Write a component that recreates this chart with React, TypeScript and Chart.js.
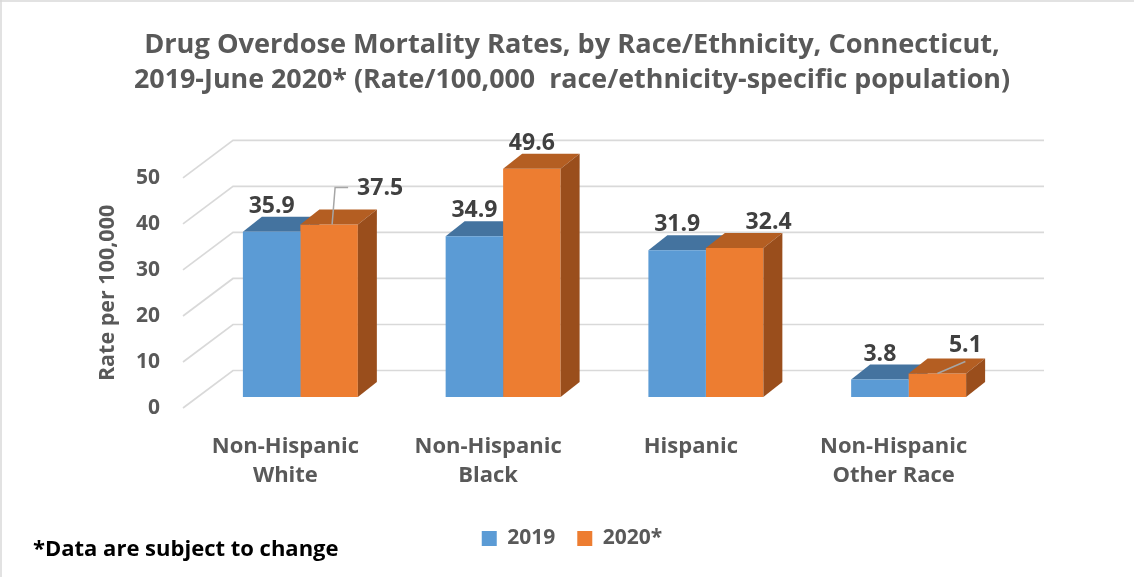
import React, { useEffect, useRef } from 'react';
import { Chart, registerables } from 'chart.js';

Chart.register(...registerables);

// ---- data ----
const categories: string[][] = [
  ['Non-Hispanic', 'White'],
  ['Non-Hispanic', 'Black'],
  ['Hispanic'],
  ['Non-Hispanic', 'Other Race'],
];
const seriesNames = ['2019', '2020*'];
const values2019 = [35.9, 34.9, 31.9, 3.8];
const values2020 = [37.5, 49.6, 32.4, 5.1];
const yMin = 0;
const yMax = 50;
const yStep = 10;
const titleLines = [
  'Drug Overdose Mortality Rates, by Race/Ethnicity, Connecticut,',
  '2019-June 2020* (Rate/100,000  race/ethnicity-specific population)',
];
const yAxisTitle = 'Rate per 100,000';
const footnote = '*Data are subject to change';

// ---- styles ----
const FONT = '"Open Sans", Lato, "DejaVu Sans", sans-serif';
const GREY = '#595959';
const LABEL_COLOR = '#404040';
const GRID = '#D9D9D9';
const faceColors = ['#5B9BD5', '#ED7D31'];
const topColors = ['#44739F', '#B45E22'];
const sideColors = ['#3E6A93', '#9A4E1C'];
const WALL = { dx: 34, dy: -26.5 };
const FRONT = { dx: -16, dy: 11 };
const DEPTH = { dx: 19, dy: -15 };
const LABEL_GAP = 19;
const labelShifts: any[][] = [
  [null, null, null, null],
  [{ dx: 51, dy: -10, leader: 'elbow' }, null, { dx: 34, dy: 0 }, { dx: 28, dy: -3, leader: 'straight' }],
];

function drawFaces(chart: any, d: number) {
  const { ctx } = chart;
  const meta = chart.getDatasetMeta(d);
  meta.data.forEach((el: any) => {
    const { x, y, base, width } = el.getProps(['x', 'y', 'base', 'width'], true);
    const l = x - width / 2;
    const r = x + width / 2;
    ctx.fillStyle = topColors[d];
    ctx.beginPath();
    ctx.moveTo(l, y);
    ctx.lineTo(r, y);
    ctx.lineTo(r + DEPTH.dx, y + DEPTH.dy);
    ctx.lineTo(l + DEPTH.dx, y + DEPTH.dy);
    ctx.closePath();
    ctx.fill();
    ctx.fillStyle = sideColors[d];
    ctx.beginPath();
    ctx.moveTo(r, y);
    ctx.lineTo(r + DEPTH.dx, y + DEPTH.dy);
    ctx.lineTo(r + DEPTH.dx, base + DEPTH.dy);
    ctx.lineTo(r, base);
    ctx.closePath();
    ctx.fill();
  });
}

const threeD = {
  id: 'threeD',
  beforeDraw(chart: any) {
    const { ctx, width, height } = chart;
    ctx.save();
    ctx.fillStyle = '#ffffff';
    ctx.fillRect(0, 0, width, height);
    ctx.strokeStyle = GRID;
    ctx.lineWidth = 1.5;
    ctx.beginPath();
    ctx.moveTo(0, 1);
    ctx.lineTo(width, 1);
    ctx.moveTo(1, 0);
    ctx.lineTo(1, height);
    ctx.stroke();
    ctx.restore();
  },
  beforeDatasetsDraw(chart: any) {
    const { ctx, chartArea } = chart;
    const ys = chart.scales.y;
    ctx.save();
    ctx.strokeStyle = GRID;
    ctx.lineWidth = 1.7;
    ys.ticks.forEach((t: any) => {
      const py = ys.getPixelForValue(t.value);
      ctx.beginPath();
      ctx.moveTo(chartArea.left + FRONT.dx, py + FRONT.dy);
      ctx.lineTo(chartArea.left + WALL.dx, py + WALL.dy);
      ctx.lineTo(chartArea.right + WALL.dx, py + WALL.dy);
      ctx.stroke();
    });
    // y-axis title
    ctx.translate(108, (chartArea.top + chartArea.bottom) / 2 + FRONT.dy);
    ctx.rotate(-Math.PI / 2);
    ctx.fillStyle = GREY;
    ctx.font = `bold 21.5px ${FONT}`;
    ctx.textAlign = 'center';
    ctx.textBaseline = 'middle';
    ctx.fillText(yAxisTitle, 0, 0);
    ctx.restore();
    ctx.save();
    for (let d = 0; d < chart.data.datasets.length - 1; d++) drawFaces(chart, d);
    ctx.restore();
  },
  afterDatasetsDraw(chart: any) {
    const { ctx } = chart;
    ctx.save();
    drawFaces(chart, chart.data.datasets.length - 1);
    ctx.font = `bold 23px ${FONT}`;
    ctx.fillStyle = LABEL_COLOR;
    ctx.textAlign = 'center';
    ctx.textBaseline = 'alphabetic';
    chart.data.datasets.forEach((ds: any, d: number) => {
      const meta = chart.getDatasetMeta(d);
      meta.data.forEach((el: any, i: number) => {
        const { x, y } = el.getProps(['x', 'y'], true);
        const sh = labelShifts[d][i] || { dx: 0, dy: 0 };
        const text = String(ds.data[i]);
        const lx = x + sh.dx;
        const ly = y - LABEL_GAP + sh.dy;
        ctx.fillStyle = LABEL_COLOR;
        ctx.fillText(text, lx, ly);
        if (sh.leader) {
          const w = ctx.measureText(text).width;
          ctx.strokeStyle = '#A6A6A6';
          ctx.lineWidth = 1.5;
          ctx.beginPath();
          if (sh.leader === 'elbow') {
            ctx.moveTo(x + 3, y);
            ctx.lineTo(x + 6, ly - 8);
            ctx.lineTo(lx - w / 2 - 9, ly - 8);
          } else {
            ctx.moveTo(x, y);
            ctx.lineTo(lx, ly + 10);
          }
          ctx.stroke();
        }
      });
    });
    ctx.restore();
  },
  afterDraw(chart: any) {
    const { ctx } = chart;
    ctx.save();
    ctx.font = `bold 22px ${FONT}`;
    ctx.fillStyle = '#000000';
    ctx.textAlign = 'left';
    ctx.textBaseline = 'alphabetic';
    ctx.fillText(footnote, 33, 556);
    ctx.restore();
  },
};

export default function App() {
  const canvasRef = useRef<HTMLCanvasElement | null>(null);

  useEffect(() => {
    document.body.style.margin = '0';
    const canvas = canvasRef.current;
    if (!canvas) return;
    const chart = new Chart(canvas, {
      type: 'bar',
      data: {
        labels: categories,
        datasets: [
          {
            label: seriesNames[0],
            data: values2019,
            backgroundColor: faceColors[0],
            borderWidth: 0,
            barPercentage: 1,
            categoryPercentage: 0.567,
          },
          {
            label: seriesNames[1],
            data: values2020,
            backgroundColor: faceColors[1],
            borderWidth: 0,
            barPercentage: 1,
            categoryPercentage: 0.567,
          },
        ],
      },
      options: {
        responsive: false,
        animation: false,
        events: [],
        layout: { padding: { left: 134, right: 124, top: 0, bottom: 18 } },
        scales: {
          x: {
            grid: { display: false, drawTicks: false },
            border: { display: false },
            ticks: {
              color: GREY,
              font: { family: FONT, size: 22, weight: 'bold', lineHeight: 1.32 },
              padding: 35,
              labelOffset: FRONT.dx + 1,
              maxRotation: 0,
              autoSkip: false,
            },
            afterFit: (s: any) => {
              s.height = 109;
            },
          },
          y: {
            min: yMin,
            max: yMax,
            grid: { display: false, drawTicks: false },
            border: { display: false },
            ticks: {
              stepSize: yStep,
              color: GREY,
              font: { family: FONT, size: 21, weight: 'bold' },
              padding: 39,
              labelOffset: FRONT.dy,
            },
            afterFit: (s: any) => {
              s.width = 65;
            },
          },
        },
        plugins: {
          title: {
            display: true,
            text: titleLines,
            color: GREY,
            font: { family: FONT, size: 27.2, weight: 'bold', lineHeight: 1.29 },
            padding: { top: 27.5, bottom: 69.2 },
          },
          legend: {
            position: 'bottom',
            labels: {
              color: GREY,
              font: { family: FONT, size: 21, weight: 'bold' },
              boxWidth: 15,
              boxHeight: 15,
              padding: 22,
            },
          },
          tooltip: { enabled: false },
        },
      },
      plugins: [threeD],
    } as any);
    return () => chart.destroy();
  }, []);

  return (
    <div style={{ width: 1134, height: 577 }}>
      <canvas ref={canvasRef} width={1134} height={577} />
    </div>
  );
}
